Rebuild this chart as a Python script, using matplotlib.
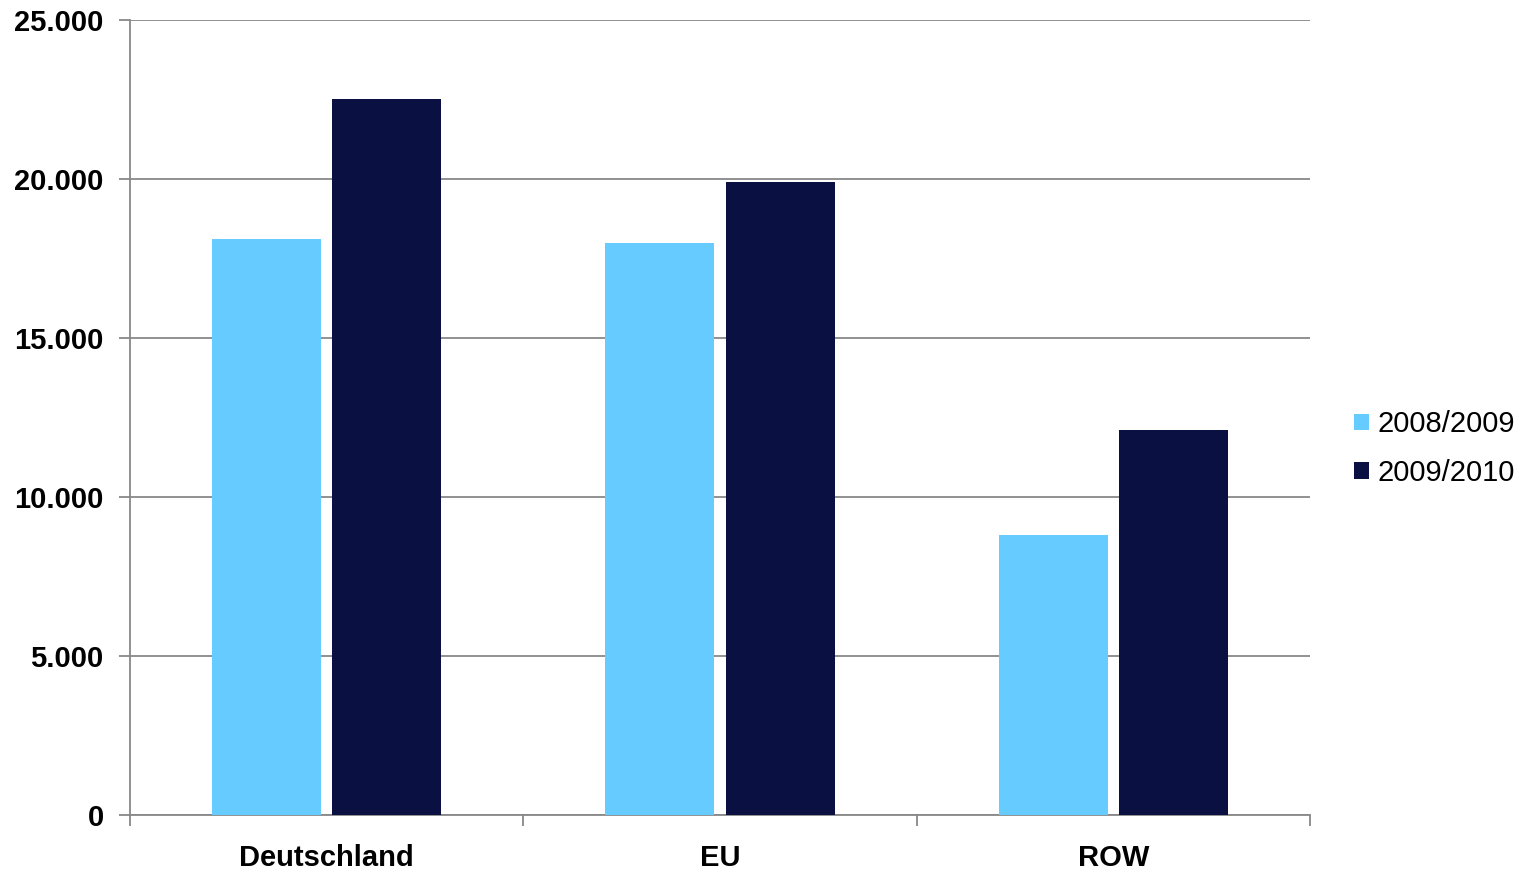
import numpy as np
import matplotlib
matplotlib.use("Agg")
import matplotlib.pyplot as plt
from matplotlib.ticker import FuncFormatter, FixedLocator

plt.rcParams['font.family'] = ['Liberation Sans', 'DejaVu Sans']

# data
categories = ['Deutschland', 'EU', 'ROW']
series_names = ['2008/2009', '2009/2010']
v_0809 = [18100, 18000, 8800]
v_0910 = [22500, 19900, 12100]
colors = ['#66CCFF', '#0A1142']

fig = plt.figure(figsize=(15.21, 8.73), dpi=100)
ax = fig.add_axes([0.0855, 0.0664, 0.7758, 0.9107])

x = np.arange(len(categories))
w = 0.277
ax.bar(x - 0.153, v_0809, w, color=colors[0], label=series_names[0], zorder=3)
ax.bar(x + 0.153, v_0910, w, color=colors[1], label=series_names[1], zorder=3)

ax.set_xlim(-0.5, len(categories) - 0.5)
ax.set_ylim(0, 25000)
ax.set_yticks(np.arange(0, 25001, 5000))
ax.yaxis.set_major_formatter(FuncFormatter(lambda v, p: f"{int(v):,}".replace(',', '.')))
ax.yaxis.grid(True, color='#888888', linewidth=1.3, zorder=0)
ax.set_axisbelow(True)

# category labels centred, tick marks at group boundaries
ax.set_xticks(x)
ax.set_xticklabels(categories)
ax.xaxis.set_minor_locator(FixedLocator(np.arange(-0.5, len(categories), 1.0)))
ax.tick_params(axis='x', which='major', length=0, pad=21)
ax.tick_params(axis='x', which='minor', length=8, color='#888888', width=1.3)
ax.tick_params(axis='y', length=8, color='#888888', width=1.3, pad=11)
for lab in ax.get_xticklabels() + ax.get_yticklabels():
    lab.set_fontsize(21)
    lab.set_fontweight('bold')

for s in ['top', 'right']:
    ax.spines[s].set_visible(False)
for s in ['left', 'bottom']:
    ax.spines[s].set_color('#888888')
    ax.spines[s].set_linewidth(1.3)

ax.legend(loc='center left', bbox_to_anchor=(1.025, 0.461), frameon=False,
          fontsize=21, handlelength=0.5, handleheight=0.5, handletextpad=0.3,
          labelspacing=0.7, borderpad=0)

fig.savefig('out.png', dpi=100)
